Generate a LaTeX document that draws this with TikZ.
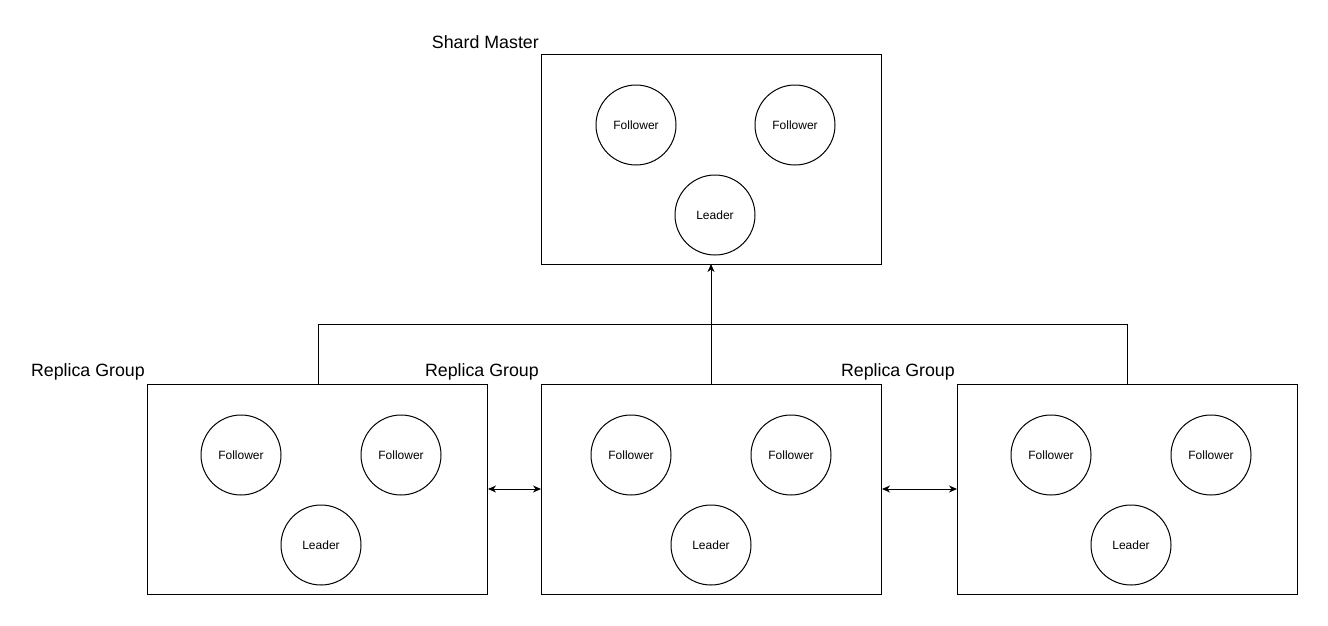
\documentclass[tikz,border=0pt]{standalone}
\usepackage{fontspec}
\setmainfont{Liberation Sans}
\usetikzlibrary{arrows.meta}
\begin{document}
\begin{tikzpicture}[x=1pt,y=-1pt,
  group/.style={draw, line width=1pt, minimum width=340pt, minimum height=210pt, anchor=north west, inner sep=0pt},
  proc/.style={draw, circle, line width=1pt, minimum size=80pt, inner sep=0pt, font=\fontsize{12}{14}\selectfont},
  glabel/.style={anchor=east, inner sep=0pt, font=\fontsize{17.8}{21}\selectfont},
  link/.style={line width=1pt},
  tip/.style={-{Stealth[length=8pt,width=7pt,inset=2.5pt]}},
  tips/.style={{Stealth[length=8pt,width=7pt,inset=2.5pt]}-{Stealth[length=8pt,width=7pt,inset=2.5pt]}}]
\useasboundingbox (0,0) rectangle (1328,625);
% Shard master
\node[group] (sm) at (541,54) {};
\node[glabel] (smlabel) at (539,42) {Shard Master};
\node[proc] (smf1) at (636,125) {Follower};
\node[proc] (smf2) at (795,125) {Follower};
\node[proc] (sml) at (715,215) {Leader};
% Replica groups
\node[group] (rg1) at (147,384) {};
\node[group] (rg2) at (541,384) {};
\node[group] (rg3) at (957,384) {};
\node[glabel] (rg1label) at (145,372) {Replica Group};
\node[glabel] (rg2label) at (539,372) {Replica Group};
\node[glabel] (rg3label) at (955,372) {Replica Group};
\node[proc] (a1) at (241,455) {Follower};
\node[proc] (a2) at (401,455) {Follower};
\node[proc] (a3) at (321,545) {Leader};
\node[proc] (b1) at (631,455) {Follower};
\node[proc] (b2) at (791,455) {Follower};
\node[proc] (b3) at (711,545) {Leader};
\node[proc] (c1) at (1051,455) {Follower};
\node[proc] (c2) at (1211,455) {Follower};
\node[proc] (c3) at (1131,545) {Leader};
% connectors
\coordinate (jl) at (318,324);
\coordinate (jr) at (1127,324);
\draw[link] (318,384) -- (jl) -- (jr) -- (1127,384);
\draw[link,tip] (711,384) -- (711,264);
\draw[link,tips] (rg1.east |- 0,489) -- (rg2.west |- 0,489);
\draw[link,tips] (rg2.east |- 0,489) -- (rg3.west |- 0,489);
\end{tikzpicture}
\end{document}
